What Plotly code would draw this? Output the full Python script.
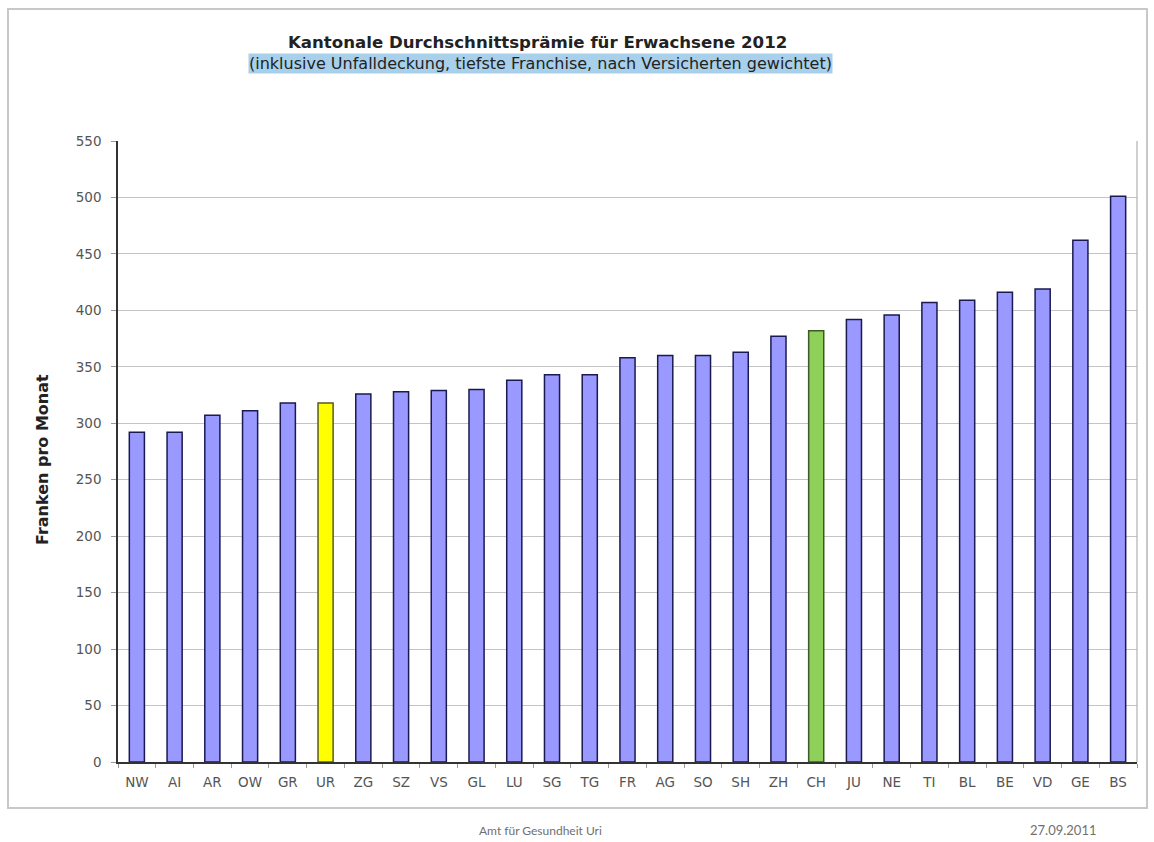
import plotly.graph_objects as go

cantons = ["NW", "AI", "AR", "OW", "GR", "UR", "ZG", "SZ", "VS", "GL", "LU", "SG", "TG", "FR",
           "AG", "SO", "SH", "ZH", "CH", "JU", "NE", "TI", "BL", "BE", "VD", "GE", "BS"]
praemie = [292, 292, 307, 311, 318, 318, 326, 328, 329, 330, 338, 343, 343, 358,
           360, 360, 363, 377, 382, 392, 396, 407, 409, 416, 419, 462, 501]
y_ticks = [0, 50, 100, 150, 200, 250, 300, 350, 400, 450, 500, 550]

highlight = {"UR": "#ffff00", "CH": "#8fd05a"}
colors = [highlight.get(c, "#9999ff") for c in cantons]
line_colors = ["#5a5a20" if c == "UR" else ("#3c5a28" if c == "CH" else "#1a1a50") for c in cantons]

fig = go.Figure()
fig.add_trace(go.Bar(
    x=cantons, y=praemie,
    marker=dict(color=colors, line=dict(color=line_colors, width=1.5)),
    width=0.4,
))

W, H = 1154, 842
L, R, T, B = 118, 17, 141, 80
pw, ph = W - L - R, H - T - B

def px(x):
    return (x - L) / pw

def py(y):
    return (H - B - y) / ph

TICKFONT = dict(family="DejaVu Sans, sans-serif", size=13.5, color="#555555")

fig.update_layout(
    width=W, height=H,
    margin=dict(l=L, r=R, t=T, b=B),
    paper_bgcolor="white", plot_bgcolor="white",
    showlegend=False,
    font=dict(family="DejaVu Sans, sans-serif", color="#333333", size=12),
    xaxis=dict(
        type="category", range=[-0.5, 26.5],
        showline=True, linecolor="#333333", linewidth=1.5,
        ticks="outside", tickson="boundaries", ticklen=4, tickcolor="#999999",
        tickfont=TICKFONT, ticklabelstandoff=7,
        showgrid=False, mirror=False,
    ),
    yaxis=dict(
        range=[0, 550], tickvals=y_ticks,
        showline=True, linecolor="#333333", linewidth=1.5,
        ticks="outside", ticklen=5, tickcolor="#999999",
        showgrid=True, gridcolor="#c4c4c4", gridwidth=1.2,
        tickfont=TICKFONT, ticklabelstandoff=7,
        zeroline=False,
    ),
    shapes=[
        dict(type="rect", xref="paper", yref="paper",
             x0=px(8), x1=px(1147), y0=py(9), y1=py(808),
             line=dict(color="#c8c8c8", width=2), fillcolor="rgba(0,0,0,0)", layer="below"),
        dict(type="line", xref="paper", yref="paper", x0=1, x1=1, y0=0, y1=1,
             line=dict(color="#b0b0b0", width=1.2)),
    ],
    annotations=[
        dict(text="<b>Kantonale Durchschnittsprämie für Erwachsene 2012</b>",
             xref="paper", yref="paper", x=px(537), y=py(43), showarrow=False,
             font=dict(size=16.6, color="#222222", family="DejaVu Sans, sans-serif"),
             xanchor="center", yanchor="middle"),
        dict(text="(inklusive Unfalldeckung, tiefste Franchise, nach Versicherten gewichtet)",
             xref="paper", yref="paper", x=px(540), y=py(64), showarrow=False,
             font=dict(size=16, color="#222222", family="DejaVu Sans, sans-serif"),
             xanchor="center", yanchor="middle",
             bgcolor="#a8d0ea", borderpad=0),
        dict(text="<b>Franken pro Monat</b>",
             xref="paper", yref="paper", x=px(42), y=py(460), showarrow=False,
             textangle=-90,
             font=dict(size=16, color="#222222", family="DejaVu Sans, sans-serif"),
             xanchor="center", yanchor="middle"),
        dict(text="Amt für Gesundheit Uri",
             xref="paper", yref="paper", x=px(540), y=py(830), showarrow=False,
             font=dict(size=12, color="#707070", family="Lato, Open Sans, sans-serif"),
             xanchor="center", yanchor="middle"),
        dict(text="27.09.2011",
             xref="paper", yref="paper", x=px(1063), y=py(830), showarrow=False,
             font=dict(size=13, color="#707070", family="Lato, Open Sans, sans-serif"),
             xanchor="center", yanchor="middle"),
    ],
)

fig.write_html("out.html")
